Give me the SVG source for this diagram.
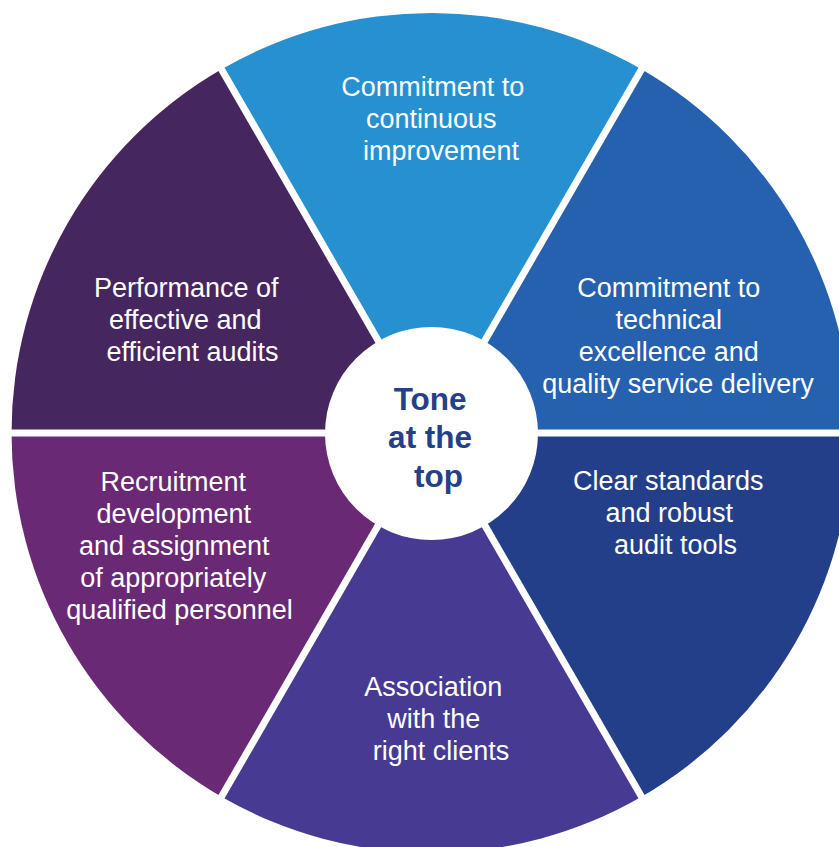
<svg xmlns="http://www.w3.org/2000/svg" width="839" height="847" viewBox="0 0 839 847">
  <style>
    .lbl { font-family: "Liberation Sans", Arial, sans-serif; font-size: 27px; fill: #ffffff; text-anchor: middle; }
    .hub { font-family: "Liberation Sans", Arial, sans-serif; font-size: 31.5px; font-weight: bold; fill: #253f88; text-anchor: middle; }
    .divider { stroke: #ffffff; stroke-width: 7; }
  </style>
  <rect width="839" height="847" fill="#ffffff"/>

  <g id="wedge-continuous-improvement">
    <path d="M431.5 433 L221.5 69.27 A420 420 0 0 1 641.5 69.27 Z" fill="#2690d0"/>
    <text class="lbl">
      <tspan x="436.5" y="96">Commitment to</tspan>
      <tspan x="435" y="128">continuous</tspan>
      <tspan x="441" y="160">improvement</tspan>
    </text>
  </g>

  <g id="wedge-technical-excellence">
    <path d="M431.5 433 L641.5 69.27 A420 420 0 0 1 851.5 433 Z" fill="#2561ae"/>
    <text class="lbl">
      <tspan x="672.5" y="297">Commitment to</tspan>
      <tspan x="672.5" y="329">technical</tspan>
      <tspan x="672.5" y="361">excellence and</tspan>
      <tspan x="678" y="393">quality service delivery</tspan>
    </text>
  </g>

  <g id="wedge-clear-standards">
    <path d="M431.5 433 L851.5 433 A420 420 0 0 1 641.5 796.73 Z" fill="#243f89"/>
    <text class="lbl">
      <tspan x="672" y="490">Clear standards</tspan>
      <tspan x="673" y="522">and robust</tspan>
      <tspan x="675.5" y="554">audit tools</tspan>
    </text>
  </g>

  <g id="wedge-right-clients">
    <path d="M431.5 433 L641.5 796.73 A420 420 0 0 1 221.5 796.73 Z" fill="#473a93"/>
    <text class="lbl">
      <tspan x="437" y="696">Association</tspan>
      <tspan x="437.5" y="728">with the</tspan>
      <tspan x="441" y="760">right clients</tspan>
    </text>
  </g>

  <g id="wedge-recruitment">
    <path d="M431.5 433 L221.5 796.73 A420 420 0 0 1 11.5 433 Z" fill="#6a2974"/>
    <text class="lbl">
      <tspan x="177" y="490.5">Recruitment</tspan>
      <tspan x="177.5" y="522.5">development</tspan>
      <tspan x="178" y="554.5">and assignment</tspan>
      <tspan x="177" y="586.5">of appropriately</tspan>
      <tspan x="179.5" y="618.5">qualified personnel</tspan>
    </text>
  </g>

  <g id="wedge-performance">
    <path d="M431.5 433 L11.5 433 A420 420 0 0 1 221.5 69.27 Z" fill="#46265f"/>
    <text class="lbl">
      <tspan x="190" y="297">Performance of</tspan>
      <tspan x="189" y="329">effective and</tspan>
      <tspan x="192.5" y="361">efficient audits</tspan>
    </text>
  </g>

  <g id="dividers">
    <line class="divider" x1="431.5" y1="433" x2="210" y2="49.4"/>
    <line class="divider" x1="431.5" y1="433" x2="653" y2="49.4"/>
    <line class="divider" x1="431.5" y1="433" x2="870" y2="433"/>
    <line class="divider" x1="431.5" y1="433" x2="653" y2="816.6"/>
    <line class="divider" x1="431.5" y1="433" x2="210" y2="816.6"/>
    <line class="divider" x1="431.5" y1="433" x2="0" y2="433"/>
  </g>

  <g id="hub">
    <circle cx="431.5" cy="433.5" r="106.5" fill="#ffffff"/>
    <text class="hub">
      <tspan x="434.5" y="410">Tone</tspan>
      <tspan x="434.5" y="448">at the</tspan>
      <tspan x="438.5" y="487">top</tspan>
    </text>
  </g>
</svg>
